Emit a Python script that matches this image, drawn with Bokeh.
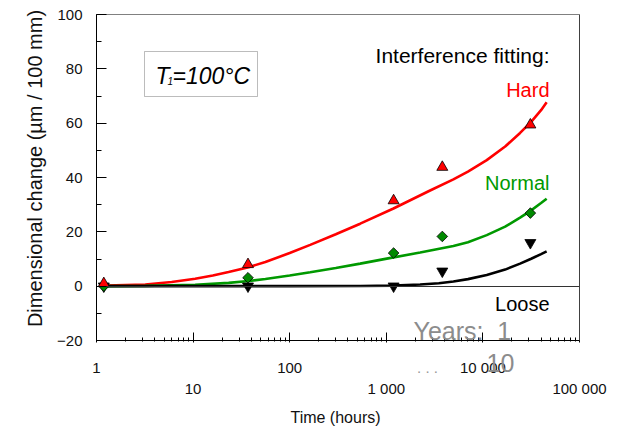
import numpy as np
from bokeh.plotting import figure
from bokeh.models import Label, BoxAnnotation, SingleIntervalTicker, LogTicker, FixedTicker, LinearAxis
from bokeh.embed import file_html
from bokeh.resources import INLINE

# ---------------- data ----------------
meas_t = [1.19, 37, 1190, 3800, 31000]
hard_v = [1.0, 8.0, 31.5, 43.8, 59.4]
normal_v = [0.0, 3.1, 12.2, 18.3, 26.9]
loose_v = [0.0, 0.0, 0.0, 5.5, 16.0]

hard_fit_t = [1.24, 3.2, 6, 10.5, 16, 23.3, 37.6, 56, 100, 163, 300, 537, 1186, 2840, 4950, 7000, 10960, 17000, 24260, 31600, 40000, 45700]
hard_fit_v = [0.2, 0.6, 1.55, 2.7, 3.9, 5.2, 7.0, 8.9, 12.2, 15.2, 19.1, 23.0, 28.6, 35.2, 39.3, 42.2, 46.4, 51.4, 56.4, 60.5, 64.8, 67.7]

normal_fit_t = [1.24, 3.2, 10.5, 23.3, 37.6, 56, 100, 163, 300, 537, 1186, 2240, 4950, 7000, 10960, 17000, 24260, 31600, 40000, 45700]
normal_fit_v = [0.0, 0.1, 0.5, 1.2, 1.9, 2.65, 3.9, 5.1, 6.7, 8.3, 10.6, 12.4, 14.8, 16.2, 18.8, 21.9, 25.2, 27.9, 30.6, 32.2]

loose_fit_t = [1.24, 10, 100, 537, 1186, 2240, 3500, 4950, 7000, 10960, 17000, 24260, 31600, 40000, 45700]
loose_fit_v = [0.0, 0.0, 0.0, 0.05, 0.2, 0.6, 1.1, 1.7, 2.6, 4.1, 6.1, 8.3, 10.1, 11.8, 12.8]

x_tick_vals = [1, 10, 100, 1000, 10000, 100000]
x_tick_labels = ["1", "10", "100", "1 000", "10 000", "100 000"]
y_bounds = (-20, 100)

RED = "#FF0000"
GREEN = "#009900"
FONT = "Liberation Sans"
INK = "#111111"

# --------------- helpers for placing annotations (picture px -> data) ---------------
def X(px):
    return 10 ** ((px - 96) / 96.6)

def Y(py):
    return (285.67 - py) / 2.7167

x_lo, x_hi = x_tick_vals[0], x_tick_vals[-1]

# the frame covers the whole canvas; axes are drawn at fixed data locations
p = figure(width=617, height=430, x_axis_type="log", x_range=(X(0), X(617)), y_range=(Y(430), Y(0)),
           output_backend="svg", toolbar_location=None,
           min_border_left=0, min_border_right=0, min_border_top=0, min_border_bottom=0)
p.xgrid.grid_line_color = None
p.ygrid.grid_line_color = None
p.outline_line_color = None
p.background_fill_color = "white"
p.border_fill_color = "white"

# y axis at x = 1
p.yaxis.fixed_location = x_lo
p.yaxis.bounds = y_bounds
p.yaxis.ticker = SingleIntervalTicker(interval=20, num_minor_ticks=2)
p.yaxis.major_tick_in = 10
p.yaxis.major_tick_out = 0
p.yaxis.minor_tick_in = 5
p.yaxis.minor_tick_out = 0
p.yaxis.major_label_standoff = 14
p.yaxis.major_label_text_font = FONT
p.yaxis.major_label_text_font_size = "15px"
p.yaxis.major_label_text_color = INK
p.yaxis.axis_line_color = "black"

# x axis at y = -20
p.xaxis.fixed_location = y_bounds[0]
p.xaxis.bounds = (x_lo, x_hi)
p.xaxis.ticker = LogTicker(num_minor_ticks=10)
p.xaxis.major_tick_in = 8
p.xaxis.major_tick_out = 2
p.xaxis.minor_tick_in = 3
p.xaxis.minor_tick_out = 1
p.xaxis.major_label_overrides = {v: "" for v in x_tick_vals}
p.xaxis.major_label_text_font_size = "0px"
p.xaxis.major_label_standoff = 0
p.xaxis.axis_line_color = "black"

def plain_axis(loc, bounds, color, width=1.0):
    return LinearAxis(fixed_location=loc, bounds=bounds, ticker=FixedTicker(ticks=[]),
                      major_label_text_font_size="0px", major_tick_in=0, major_tick_out=0,
                      minor_tick_in=0, minor_tick_out=0, major_label_standoff=0,
                      axis_line_color=color, axis_line_width=width)

# frame edges: top grey, right dark; zero reference line
p.add_layout(plain_axis(y_bounds[1], (x_lo, x_hi), "#808080", 1.2), "above")
p.add_layout(plain_axis(x_hi, y_bounds, "#404040"), "right")
p.add_layout(plain_axis(0, (x_lo, x_hi), "#333333"), "below")

# fitted curves
p.line(hard_fit_t, hard_fit_v, line_color=RED, line_width=2.6)
p.line(normal_fit_t, normal_fit_v, line_color=GREEN, line_width=2.6)
p.line(loose_fit_t, loose_fit_v, line_color="black", line_width=2.6)

# measured points
p.scatter(meas_t, loose_v, marker="inverted_triangle", size=11, fill_color="black", line_color="black", line_width=0.8)
p.scatter(meas_t, normal_v, marker="square", angle=np.pi / 4, size=7.5, fill_color="#008a00", line_color="black", line_width=0.8)
p.scatter(meas_t, hard_v, marker="triangle", size=11, fill_color=RED, line_color="black", line_width=0.8)

# staggered x tick labels
for i, (v, lab) in enumerate(zip(x_tick_vals, x_tick_labels)):
    row_y = Y(367) if i % 2 == 0 else Y(388)
    p.add_layout(Label(x=v, y=row_y, text=lab, text_align="center", text_baseline="middle",
                       text_font=FONT, text_font_size="15px", text_color=INK))

# axis titles
p.add_layout(Label(x=X(335), y=Y(417), text="Time (hours)", text_align="center", text_baseline="middle",
                   text_font=FONT, text_font_size="16px", text_color=INK))
p.add_layout(Label(x=X(34), y=Y(168), text="Dimensional change (µm / 100 mm)", angle=np.pi / 2,
                   text_align="center", text_baseline="middle",
                   text_font=FONT, text_font_size="20px", text_color=INK))

# temperature box
p.add_layout(BoxAnnotation(left=X(144), right=X(257), top=Y(51), bottom=Y(96),
                           fill_color="white", fill_alpha=1, line_color="#222222", line_width=1))
p.add_layout(Label(x=X(155), y=Y(75), text="T", text_align="left", text_baseline="middle",
                   text_font=FONT, text_font_size="23px", text_font_style="italic", text_color="black"))
p.add_layout(Label(x=X(167), y=Y(80), text="1", text_align="left", text_baseline="middle",
                   text_font=FONT, text_font_size="10px", text_font_style="italic", text_color="black"))
p.add_layout(Label(x=X(172), y=Y(75), text="=100°C", text_align="left", text_baseline="middle",
                   text_font=FONT, text_font_size="23px", text_font_style="italic", text_color="black"))

# series labels
for txt, col, py, fs in [("Interference fitting:", "black", 55, "21px"), ("Hard", RED, 89, "20px"),
                         ("Normal", GREEN, 182, "20px"), ("Loose", "black", 303, "20px")]:
    p.add_layout(Label(x=X(549), y=Y(py), text=txt, text_align="right", text_baseline="middle",
                       text_font=FONT, text_font_size=fs, text_color=col))

# grey leftover texts
p.add_layout(Label(x=X(413), y=Y(330), text="Years:\u00a0\u00a01", text_align="left", text_baseline="middle",
                   text_font=FONT, text_font_size="25px", text_color="#8c8c8c"))
p.add_layout(Label(x=X(500), y=Y(362), text="10", text_align="center", text_baseline="middle",
                   text_font=FONT, text_font_size="25px", text_color="#8c8c8c"))
p.add_layout(Label(x=X(427), y=Y(367), text=". . .", text_align="center", text_baseline="middle",
                   text_font=FONT, text_font_size="15px", text_color="#999999"))

open("out.html", "w").write(file_html(p, INLINE))
